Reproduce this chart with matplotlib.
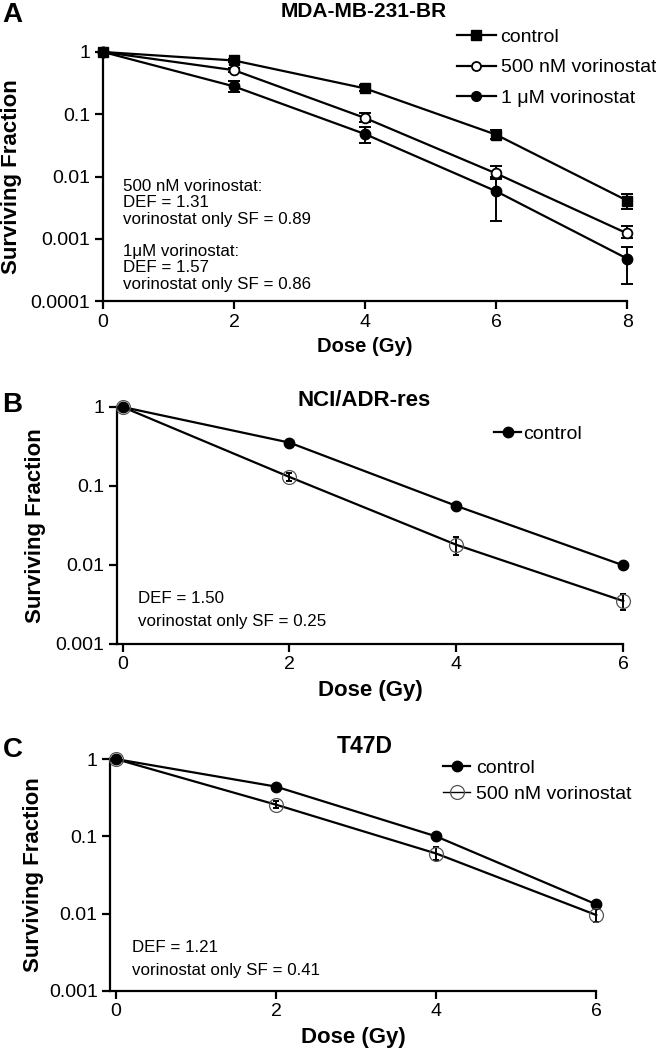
import numpy as np
import matplotlib.pyplot as plt
from matplotlib.lines import Line2D

plt.rcParams['font.family'] = ['Liberation Sans', 'DejaVu Sans']

# --- data ---
dose_a = [0, 2, 4, 6, 8]
ctrl_a = [1, 0.73, 0.26, 0.047, 0.0041]
ctrl_a_lo = [1, 0.68, 0.24, 0.040, 0.0030]
ctrl_a_hi = [1, 0.78, 0.29, 0.055, 0.0053]
v500_a = [1, 0.51, 0.087, 0.0112, 0.00122]
v500_a_lo = [1, 0.47, 0.075, 0.0090, 0.00104]
v500_a_hi = [1, 0.56, 0.105, 0.0148, 0.0016]
v1_a = [1, 0.28, 0.048, 0.0058, 0.00048]
v1_a_lo = [1, 0.23, 0.034, 0.0019, 0.00019]
v1_a_hi = [1, 0.34, 0.062, 0.0098, 0.00075]

dose_b = [0, 2, 4, 6]
ctrl_b = [1, 0.354, 0.056, 0.0099]
ctrl_b_lo = [1, 0.34, 0.054, 0.0095]
ctrl_b_hi = [1, 0.37, 0.059, 0.0104]
vor_b = [1, 0.13, 0.018, 0.0035]
vor_b_lo = [1, 0.115, 0.0133, 0.0027]
vor_b_hi = [1, 0.145, 0.0225, 0.0043]

dose_c = [0, 2, 4, 6]
ctrl_c = [1, 0.44, 0.10, 0.0132]
ctrl_c_lo = [1, 0.42, 0.09, 0.0125]
ctrl_c_hi = [1, 0.46, 0.11, 0.014]
vor_c = [1, 0.257, 0.06, 0.0096]
vor_c_lo = [1, 0.23, 0.05, 0.0077]
vor_c_hi = [1, 0.29, 0.072, 0.0118]

TICK_FS = 14
NOTE_FS = 12.2
LEG_FS = 14


def series(ax, dose, sf, lo, hi, capsize, **mk):
    ax.plot(dose, sf, color='black', lw=1.6, zorder=2, clip_on=False)
    sf = np.asarray(sf)
    yerr = [sf - np.asarray(lo), np.asarray(hi) - sf]
    ax.errorbar(dose, sf, yerr=yerr, fmt='none', ecolor='black', elinewidth=1.4,
                capsize=capsize, capthick=1.4, zorder=3, clip_on=False)
    ax.plot(dose, sf, linestyle='none', zorder=4, clip_on=False, **mk)


def style_axes(ax, xmax, ymin, yticklabels, xlabel_fs, ylab_x):
    ax.set_yscale('log')
    ax.set_xlim(0, xmax)
    ax.set_ylim(ymin, 1)
    ax.spines['top'].set_visible(False)
    ax.spines['right'].set_visible(False)
    ax.spines['left'].set_linewidth(1.6)
    ax.spines['bottom'].set_linewidth(1.6)
    ax.set_xticks(range(0, xmax + 1, 2))
    ticks = [10.0 ** -i for i in range(len(yticklabels))]
    ax.set_yticks(ticks)
    ax.set_yticklabels(yticklabels)
    ax.yaxis.set_minor_locator(plt.NullLocator())
    ax.tick_params(direction='out', length=6, width=1.6, labelsize=TICK_FS, pad=3)
    ax.set_xlabel('Dose (Gy)', fontsize=xlabel_fs, fontweight='bold', labelpad=5)
    ax.set_ylabel('Surviving Fraction', fontsize=16, fontweight='bold')
    # anchor is the right edge of the rotated label
    ax.yaxis.set_label_coords(ylab_x, 0.5)


fig = plt.figure(figsize=(6.56, 10.5), dpi=100)

# ---------- panel A ----------
axA = fig.add_axes([0.157, 0.7133, 0.799, 0.2372])
series(axA, dose_a, ctrl_a, ctrl_a_lo, ctrl_a_hi, 4.5,
       marker='s', ms=7.5, mfc='black', mec='black')
series(axA, dose_a, v500_a, v500_a_lo, v500_a_hi, 4.5,
       marker='o', ms=7, mfc='white', mec='black', mew=1.3)
series(axA, dose_a, v1_a, v1_a_lo, v1_a_hi, 4.5,
       marker='o', ms=7.5, mfc='black', mec='black')
style_axes(axA, 8, 1e-4, ['1', '0.1', '0.01', '0.001', '0.0001'], 14.5, -0.154)
axA.text(0.3, 0.0038, '500 nM vorinostat:\nDEF = 1.31\nvorinostat only SF = 0.89',
         fontsize=NOTE_FS, va='center', ha='left', linespacing=1.12)
axA.text(0.3, 0.00034, '1\u03bcM vorinostat:\nDEF = 1.57\nvorinostat only SF = 0.86',
         fontsize=NOTE_FS, va='center', ha='left', linespacing=1.12)
handles_a = [
    Line2D([], [], color='black', lw=1.6, marker='s', ms=7, mfc='black'),
    Line2D([], [], color='black', lw=1.6, marker='o', ms=6.5, mfc='white', mew=1.3),
    Line2D([], [], color='black', lw=1.6, marker='o', ms=7, mfc='black'),
]
axA.legend(handles_a, ['control', '500 nM vorinostat', '1 \u03bcM vorinostat'],
           loc='upper left', bbox_to_anchor=(0.675, 1.094), frameon=False,
           fontsize=LEG_FS, handlelength=2.0, handletextpad=0.25, labelspacing=0.65,
           borderaxespad=0, borderpad=0)
fig.text(0.555, 0.9886, 'MDA-MB-231-BR', fontsize=15, fontweight='bold',
         ha='center', va='center')
fig.text(0.004, 0.9857, 'A', fontsize=20, fontweight='bold', ha='left', va='center')

# ---------- panel B ----------
axB = fig.add_axes([0.178, 0.3867, 0.772, 0.2257])
series(axB, dose_b, ctrl_b, ctrl_b_lo, ctrl_b_hi, 2,
       marker='o', ms=7.5, mfc='black', mec='black')
series(axB, dose_b, vor_b, vor_b_lo, vor_b_hi, 2,
       marker='o', ms=10, mfc='none', mec='#555555', mew=0.9)
style_axes(axB, 6, 1e-3, ['1', '0.1', '0.01', '0.001'], 16, -0.140)
axB.set_xlim(-0.07, 6)
axB.spines['bottom'].set_bounds(-0.07, 6)
axB.text(0.19, 0.0038, 'DEF = 1.50', fontsize=NOTE_FS, va='center')
axB.text(0.19, 0.0019, 'vorinostat only SF = 0.25', fontsize=NOTE_FS, va='center')
handles_b = [Line2D([], [], color='black', lw=1.6, marker='o', ms=7.5, mfc='black')]
axB.legend(handles_b, ['control'], loc='center left', bbox_to_anchor=(0.745, 0.886),
           frameon=False, fontsize=LEG_FS, handlelength=1.4, handletextpad=0.1,
           borderaxespad=0, borderpad=0)
fig.text(0.555, 0.619, 'NCI/ADR-res', fontsize=16, fontweight='bold',
         ha='center', va='center')
fig.text(0.004, 0.614, 'B', fontsize=20, fontweight='bold', ha='left', va='center')

# ---------- panel C ----------
axC = fig.add_axes([0.168, 0.0562, 0.741, 0.2209])
series(axC, dose_c, ctrl_c, ctrl_c_lo, ctrl_c_hi, 2,
       marker='o', ms=7.5, mfc='black', mec='black')
series(axC, dose_c, vor_c, vor_c_lo, vor_c_hi, 2,
       marker='o', ms=10, mfc='none', mec='#555555', mew=0.9)
style_axes(axC, 6, 1e-3, ['1', '0.1', '0.01', '0.001'], 16, -0.136)
axC.set_xlim(-0.07, 6)
axC.spines['bottom'].set_bounds(-0.07, 6)
axC.text(0.2, 0.0037, 'DEF = 1.21', fontsize=NOTE_FS, va='center')
axC.text(0.2, 0.00186, 'vorinostat only SF = 0.41', fontsize=NOTE_FS, va='center')
handles_c = [
    Line2D([], [], color='black', lw=1.6, marker='o', ms=7.5, mfc='black'),
    Line2D([], [], color='black', lw=1.0, marker='o', ms=10, mfc='none', mec='#555555', mew=0.9),
]
axC.legend(handles_c, ['control', '500 nM vorinostat'], loc='upper left',
           bbox_to_anchor=(0.685, 1.0), frameon=False, fontsize=LEG_FS,
           handlelength=1.4, handletextpad=0.3, labelspacing=0.45,
           borderaxespad=0, borderpad=0)
fig.text(0.556, 0.2886, 'T47D', fontsize=16.5, fontweight='bold',
         ha='center', va='center')
fig.text(0.004, 0.286, 'C', fontsize=20, fontweight='bold', ha='left', va='center')

fig.savefig('out.png', dpi=100)
